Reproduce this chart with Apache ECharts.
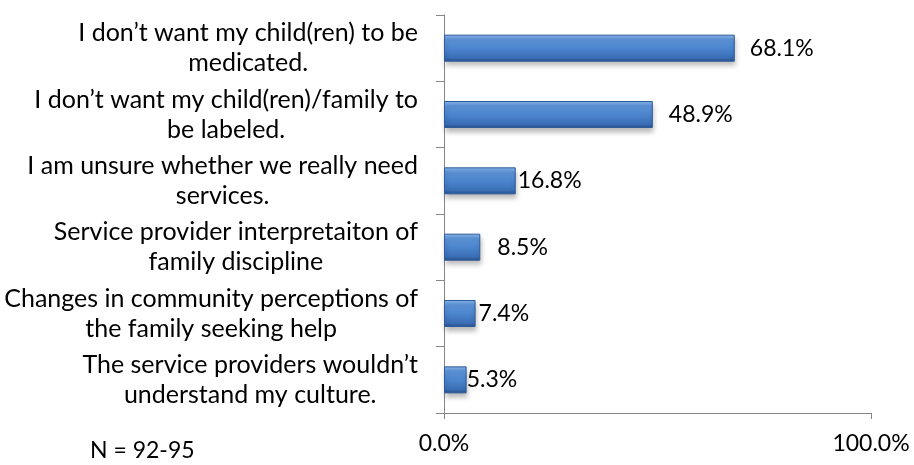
<!DOCTYPE html>
<html>
<head>
<meta charset="utf-8">
<script src="https://cdn.jsdelivr.net/npm/echarts@6/dist/echarts.min.js"></script>
<style>
  html, body { margin: 0; padding: 0; background: #ffffff; }
  #chart { width: 914px; height: 465px; }
</style>
</head>
<body>
<div id="chart"></div>
<script>
// Reasons for not seeking services (percent of respondents)
const categories = [
  'I don\u2019t want my child(ren) to be\nmedicated.',
  'I don\u2019t want my child(ren)/family to\nbe labeled.',
  'I am unsure whether we really need\nservices.',
  'Service provider interpretaiton of\nfamily discipline',
  'Changes in community perceptions of\nthe family seeking help',
  'The service providers wouldn\u2019t\nunderstand my culture.'
];
const values = [68.1, 48.9, 16.8, 8.5, 7.4, 5.3];
const xTickLabels = ['0.0%', '100.0%'];
const sampleNote = 'N = 92-95';

// Gap between each bar end and its value label
const labelGap = [15, 16, 2, 17, 3, 0];

const FONT = 'Lato, "Open Sans", sans-serif';
const CAT_SIZE = 25;
const NUM_SIZE = 23;

const barFill = new echarts.graphic.LinearGradient(0, 0, 0, 1, [
  { offset: 0, color: '#8cb8ec' },
  { offset: 0.18, color: '#5d95da' },
  { offset: 0.55, color: '#4a82cb' },
  { offset: 0.85, color: '#3a6fb6' },
  { offset: 1, color: '#284f8c' }
]);

const chart = echarts.init(document.getElementById('chart'), null, { renderer: 'canvas' });

chart.setOption({
  animation: false,
  backgroundColor: '#ffffff',
  grid: { left: 444, right: 43, top: 15, bottom: 52, containLabel: false },
  xAxis: {
    type: 'value',
    min: 0,
    max: 100,
    interval: 100,
    axisLine: { show: true, lineStyle: { color: '#868686', width: 1 } },
    axisTick: { show: true, length: 6, lineStyle: { color: '#868686' } },
    splitLine: { show: false },
    axisLabel: {
      margin: 19,
      color: '#000000',
      fontFamily: FONT,
      fontSize: NUM_SIZE,
      formatter: v => (v === 0 ? xTickLabels[0] : xTickLabels[1])
    }
  },
  yAxis: {
    type: 'category',
    inverse: true,
    data: categories,
    axisLine: { show: true, lineStyle: { color: '#868686', width: 1 } },
    axisTick: { show: true, length: 8, alignWithLabel: false, lineStyle: { color: '#868686' } },
    axisLabel: {
      margin: 26,
      align: 'right',
      color: '#000000',
      formatter: v => v.split('\n').map(line => '{c|' + line + '}').join('\n'),
      rich: {
        c: {
          align: 'center',
          fontFamily: FONT,
          fontSize: CAT_SIZE,
          lineHeight: 30,
          color: '#000000'
        }
      }
    }
  },
  series: [{
    type: 'bar',
    barWidth: 27,
    data: values.map((v, i) => ({
      value: v,
      label: { distance: labelGap[i] }
    })),
    itemStyle: {
      color: barFill,
      borderColor: '#2d5a98',
      borderWidth: 1,
      shadowColor: 'rgba(0,0,0,0.28)',
      shadowBlur: 5,
      shadowOffsetX: 1,
      shadowOffsetY: 4
    },
    label: {
      show: true,
      position: 'right',
      color: '#000000',
      fontFamily: FONT,
      fontSize: NUM_SIZE,
      formatter: p => p.value.toFixed(1) + '%'
    }
  }],
  graphic: [{
    type: 'text',
    left: 90,
    top: 439,
    style: {
      text: sampleNote,
      fontFamily: FONT,
      fontSize: NUM_SIZE,
      fill: '#000000'
    }
  }]
});
</script>
</body>
</html>
